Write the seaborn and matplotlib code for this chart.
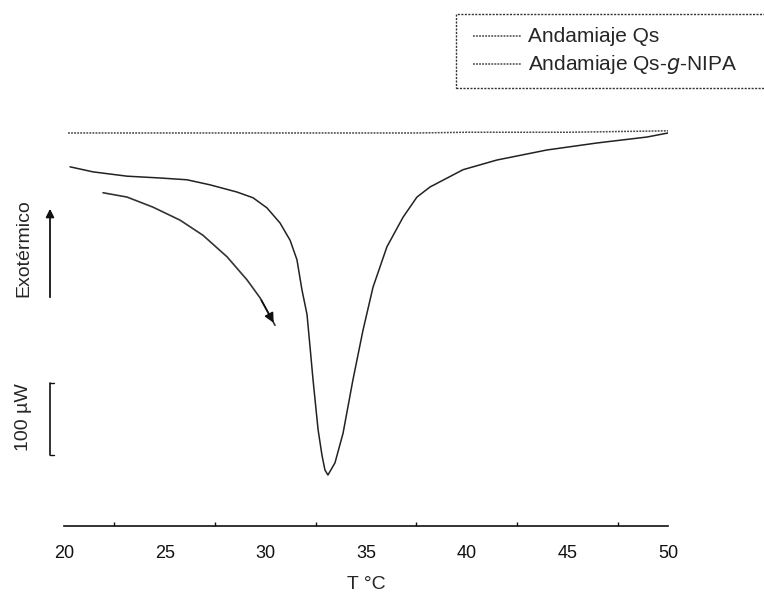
import matplotlib
matplotlib.use("Agg")
import matplotlib.pyplot as plt
from matplotlib.patches import Rectangle, FancyArrowPatch
import numpy as np
import pandas as pd
import seaborn as sns

# Temperature (°C) and relative heat flow (µW) for each scaffold
temp_qs = [20.2, 22.5, 25.0, 27.5, 30.0, 32.5, 35.0, 37.5, 40.0, 42.5, 45.0, 47.5, 50.0]
flow_qs = [0, 0, 0, 0, 0, 0, 0, 0, 1, 1, 1, 2, 3]

temp_nipa = [20.3, 21.44, 23.13, 24.77, 26.11, 27.25, 28.59, 29.39, 30.08,
             30.73, 31.23, 31.57, 31.82, 32.07, 32.22, 32.37, 32.62, 32.81,
             32.96, 33.11, 33.46, 33.86, 34.35, 34.85, 35.35, 36.04, 36.84,
             37.53, 38.18, 39.82, 41.51, 43.99, 46.47, 48.96, 50.0]
flow_nipa = [-47, -54, -60, -62.5, -65, -72, -82, -90, -104,
             -125, -149, -176, -218, -252, -297, -343, -412, -447,
             -468, -475, -458, -417, -343, -274, -214, -158, -117,
             -89, -75, -51, -37.5, -23.6, -13.9, -5.6, 0]

# Heating-direction arrow path
temp_arrow = [21.94, 23.13, 24.42, 25.76, 26.90, 28.10, 29.09, 29.74, 30.48]
flow_arrow = [-83, -89, -103, -121, -142, -172, -204, -229, -267]

xticks = [20, 25, 30, 35, 40, 45, 50]
series_labels = ["Andamiaje Qs", "Andamiaje Qs-$g$-NIPA"]

sns.set_style("white")
plt.rcParams["font.family"] = ["Liberation Sans", "DejaVu Sans"]

fig = plt.figure(figsize=(7.64, 5.99), dpi=100)
ax = fig.add_axes([64 / 764, 1 - 526 / 599, 604 / 764, 426 / 599])

df_qs = pd.DataFrame({"T": temp_qs, "q": flow_qs})
df_nipa = pd.DataFrame({"T": temp_nipa, "q": flow_nipa})
df_arrow = pd.DataFrame({"T": temp_arrow, "q": flow_arrow})

sns.lineplot(data=df_qs, x="T", y="q", ax=ax, color="#444444", lw=1.1,
             linestyle=(0, (1.2, 0.8)), sort=False)
sns.lineplot(data=df_nipa, x="T", y="q", ax=ax, color="#222222", lw=1.1,
             sort=False)
sns.lineplot(data=df_arrow, x="T", y="q", ax=ax, color="#333333", lw=1.2,
             sort=False)
ax.annotate("", xy=(temp_arrow[-1], flow_arrow[-1]),
            xytext=(temp_arrow[-2], flow_arrow[-2]),
            arrowprops=dict(arrowstyle="-|>", color="#111111", lw=1.2,
                            mutation_scale=14))

ax.set_xlim(20, 50)
ax.set_ylim(-545.8, 45.8)
for side in ["top", "left", "right"]:
    ax.spines[side].set_visible(False)
ax.spines["bottom"].set_color("#111111")
ax.spines["bottom"].set_linewidth(1.2)
ax.set_yticks([])
ax.set_xticks(xticks)
ax.set_xticklabels([str(t) for t in xticks])
ax.set_xticks([22.5, 27.5, 32.5, 37.5, 42.5, 47.5], minor=True)
ax.tick_params(axis="x", which="major", direction="in", length=8, width=1.1,
               colors="#111111", labelsize=13, pad=14)
ax.tick_params(axis="x", which="minor", direction="in", length=3, width=1.0,
               colors="#111111", bottom=True)
ax.set_xlabel("T °C", fontsize=14, labelpad=10)
ax.set_ylabel("")

# Exothermic direction arrow and label
fig.add_artist(FancyArrowPatch((50 / 764, 1 - 300 / 599), (50 / 764, 1 - 206 / 599),
                               transform=fig.transFigure, arrowstyle="-|>",
                               mutation_scale=12, color="#111111", lw=1.3))
fig.text(24 / 764, 1 - 248 / 599, "Exotérmico", rotation=90, ha="center",
         va="center", fontsize=14)

# 100 µW scale bar
fig.add_artist(plt.Line2D([50 / 764, 50 / 764], [1 - 383 / 599, 1 - 455 / 599],
                          transform=fig.transFigure, color="#111111", lw=1.2))
for yp in (383, 455):
    fig.add_artist(plt.Line2D([50 / 764, 54 / 764], [1 - yp / 599, 1 - yp / 599],
                              transform=fig.transFigure, color="#111111", lw=1.0))
fig.text(24 / 764, 1 - 417 / 599, "100 µW", rotation=90, ha="center",
         va="center", fontsize=14)

# Legend box
fig.add_artist(Rectangle((456 / 764, 1 - 88 / 599), 330 / 764, 74 / 599,
                         transform=fig.transFigure, fill=False,
                         edgecolor="#333333", lw=1.0, linestyle=(0, (1.5, 1)),
                         clip_on=False))
for i, (lab, yp) in enumerate(zip(series_labels, (36, 64))):
    fig.add_artist(plt.Line2D([473 / 764, 521 / 764], [1 - yp / 599, 1 - yp / 599],
                              transform=fig.transFigure, color="#444444", lw=1.1,
                              linestyle=(0, (1.2, 0.8))))
    fig.text(528 / 764, 1 - yp / 599, lab, ha="left", va="center", fontsize=15)

fig.savefig("out.png", dpi=100, facecolor="white")
